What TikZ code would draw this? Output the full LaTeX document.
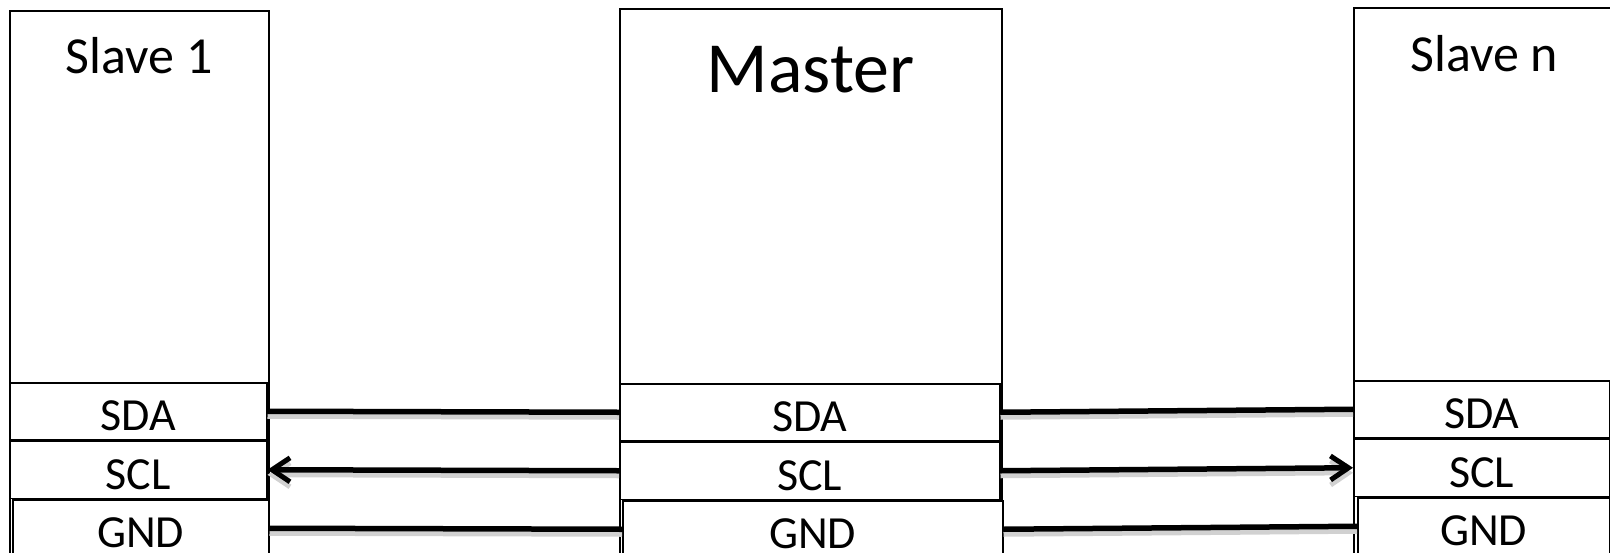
\documentclass[tikz,border=0pt]{standalone}
\usepackage{fontspec}
\setmainfont{Carlito}
\usetikzlibrary{positioning,arrows.meta}

\begin{document}
\begin{tikzpicture}[
        x=1pt, y=-1pt,
        chip/.style={rectangle, draw, line width=1.5pt, fill=white, minimum height=560pt, anchor=north west},
        port/.style={rectangle, draw, line width=1.5pt, fill=white, minimum height=57pt, inner sep=0pt,
            text height=39pt, text depth=0pt, font=\fontsize{46}{50}\selectfont},
        chiplabel/.style={anchor=base, inner sep=0pt},
        wire/.style={line width=5.5pt, preaction={draw=black!18, line width=5pt, transform canvas={yshift=-5pt}}},
        tip/.style={-{Straight Barb[length=18pt, width=24pt, line width=5pt]}}
    ]
    \useasboundingbox (0,0) rectangle (1610,552);
    \clip (0,0) rectangle (1610,552);

    % Slave 1
    \node[chip, minimum width=259pt] (s1) at (9,10) {};
    \node[chiplabel, font=\fontsize{52}{56}\selectfont] (s1title) at ([yshift=-63pt]s1.north) {Slave 1};
    \node[port, minimum width=257pt, anchor=north west] (s1sda) at (9,382) {SDA};
    \node[port, minimum width=257pt, below=0pt of s1sda] (s1scl) {SCL};
    \node[port, minimum width=256pt, below right=0pt and 3pt of s1scl.south west] (s1gnd) {GND};

    % Master
    \node[chip, minimum width=382pt] (m) at (619,8) {};
    \node[chiplabel, font=\fontsize{72}{76}\selectfont] (mtitle) at ([yshift=-84pt]m.north) {Master};
    \node[port, minimum width=380pt, anchor=north west] (msda) at (619,383) {SDA};
    \node[port, minimum width=380pt, below=0pt of msda] (mscl) {SCL};
    \node[port, minimum width=380pt, below right=0pt and 3pt of mscl.south west] (mgnd) {GND};

    % Slave n
    \node[chip, minimum width=261pt] (sn) at (1353,7) {};
    \node[chiplabel, font=\fontsize{52}{56}\selectfont] (sntitle) at ([yshift=-64pt]sn.north) {Slave n};
    \node[port, minimum width=256pt, anchor=north west] (snsda) at (1353,380) {SDA};
    \node[port, minimum width=256pt, below=0pt of snsda] (snscl) {SCL};
    \node[port, minimum width=252pt, below right=0pt and 4pt of snscl.south west] (sngnd) {GND};

    % bus lines
    \draw[wire] (s1sda.east) -- (msda.west);
    \draw[wire, tip] (mscl.west) -- (s1scl.east);
    \draw[wire] (s1gnd.east) -- (mgnd.west);
    \draw[wire] (msda.east) -- (snsda.west);
    \draw[wire, tip] (mscl.east) -- (snscl.west);
    \draw[wire] (mgnd.east) -- (sngnd.west);
\end{tikzpicture}
\end{document}
